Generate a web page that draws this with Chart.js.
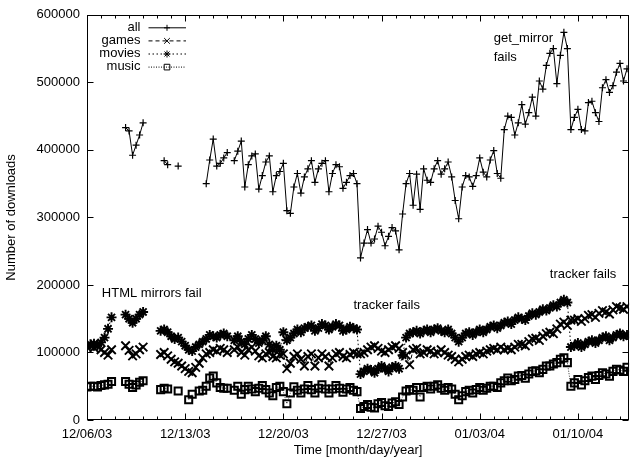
<!DOCTYPE html>
<html>
<head>
<meta charset="utf-8">
<script src="https://cdn.jsdelivr.net/npm/chart.js@4.4.1/dist/chart.umd.min.js"></script>
<style>
html, body { margin: 0; padding: 0; background: #fff; }
</style>
</head>
<body>
<canvas id="downloadsChart" width="637" height="461"></canvas>
<script>
// Days since 12/06/03, one sample every 6 hours
const days = [
    0, 0.25, 0.5, 0.75,   1, 1.25, 1.5, 1.75,   2, 2.25, 2.5, 2.75,   3, 3.25, 3.5, 3.75,
    4, 4.25, 4.5, 4.75,   5, 5.25, 5.5, 5.75,   6, 6.25, 6.5, 6.75,   7, 7.25, 7.5, 7.75,
    8, 8.25, 8.5, 8.75,   9, 9.25, 9.5, 9.75,   10, 10.25, 10.5, 10.75,   11, 11.25, 11.5, 11.75,
    12, 12.25, 12.5, 12.75,   13, 13.25, 13.5, 13.75,   14, 14.25, 14.5, 14.75,   15, 15.25, 15.5, 15.75,
    16, 16.25, 16.5, 16.75,   17, 17.25, 17.5, 17.75,   18, 18.25, 18.5, 18.75,   19, 19.25, 19.5, 19.75,
    20, 20.25, 20.5, 20.75,   21, 21.25, 21.5, 21.75,   22, 22.25, 22.5, 22.75,   23, 23.25, 23.5, 23.75,
    24, 24.25, 24.5, 24.75,   25, 25.25, 25.5, 25.75,   26, 26.25, 26.5, 26.75,   27, 27.25, 27.5, 27.75,
    28, 28.25, 28.5, 28.75,   29, 29.25, 29.5, 29.75,   30, 30.25, 30.5, 30.75,   31, 31.25, 31.5, 31.75,
    32, 32.25, 32.5, 32.75,   33, 33.25, 33.5, 33.75,   34, 34.25, 34.5, 34.75,   35, 35.25, 35.5, 35.75,
    36, 36.25, 36.5, 36.75,   37, 37.25, 37.5, 37.75,   38, 38.25, 38.5
];

// Downloads in thousands, one row per day (null = no data)
const allK = [
    null, null, null, null,   null, null, null, null,   null, null, null, 433,   428, 392, 407, 422,
    440, null, null, null,   null, null, 384, 378,   null, null, 376, null,   null, null, null, null,
    null, null, 350, 385,   416, 376, 380, 388,   396, null, 384, 398,   413, 345, 378, 391,
    394, 342, 362, 382,   391, 338, 362, 368,   380, 310, 306, 345,   365, 336, 360, 372,
    384, 352, 372, 380,   384, 338, 365, 378,   375, 343, 352, 362,   365, 350, 240, 262,
    282, 262, 268, 287,   278, 258, 272, 285,   280, 252, 305, 350,   365, 318, 364, 312,
    372, 355, 352, 372,   384, 364, 372, 382,   360, 325, 298, 345,   362, 360, 346, 362,
    388, 367, 360, 385,   399, 365, 358, 430,   450, 448, 422, 440,   467, 438, 455, 478,
    450, 502, 490, 525,   543, 550, 498, 540,   574, 550, 430, 448,   460, 430, 428, 470,
    472, 455, 442, 492,   504, 485, 495, 515,   528, 502, 520
];

const gamesK = [
    108, 110, 107, 109,   104, 100, 96, 104,   null, null, null, 110,   103, 95, 98, 104,
    108, null, null, null,   null, 97, 100, 95,   90, 86, 84, 80,   76, 72, 70, 78,
    84, 92, 98, 100,   104, 102, 106, 104,   100, null, 104, 108,   100, 96, 104, 108,
    102, 95, 92, 98,   100, 94, 92, 96,   98, 76, 84, 94,   98, 90, 80, 94,
    98, 80, 92, 98,   94, 80, 92, 98,   100, 94, 92, 97,   100, 98, 98, 100,
    104, 108, 110, 106,   102, 100, 104, 108,   110, 106, 100, 96,   82, 104, 106, 98,
    100, 104, 102, 98,   100, 104, 100, 96,   94, 90, 86, 90,   94, 96, 94, 98,
    100, 98, 102, 104,   106, 104, 108, 104,   106, 104, 108, 112,   112, 110, 116, 120,
    121, 118, 124, 128,   130, 128, 135, 142,   145, 140, 148, 148,   150, 146, 150, 155,
    156, 152, 158, 162,   160, 157, 163, 168,   166, 164, 168
];

const moviesK = [
    110, 112, 113, 111,   115, 122, 135, 152,   null, null, null, 156,   150, 144, 150, 156,
    160, null, null, null,   null, 132, 134, 130,   124, 120, 122, 116,   110, 104, 102, 108,
    112, 116, 120, 126,   124, 122, 126, 128,   124, null, 118, 124,   116, 112, 120, 126,
    120, 114, 118, 124,   112, 104, 110, 104,   130, 118, 122, 128,   134, 130, 136, 138,
    140, 132, 136, 142,   140, 134, 138, 142,   140, 132, 134, 138,   136, 134, 68, 72,
    76, 74, 70, 76,   80, 76, 72, 78,   80, 76, 96, 122,   128, 130, 132, 128,
    132, 134, 130, 134,   136, 132, 130, 134,   128, 122, 116, 122,   128, 130, 126, 130,
    134, 130, 134, 138,   140, 136, 140, 144,   146, 142, 148, 152,   150, 148, 154, 158,
    156, 160, 164, 162,   166, 170, 168, 174,   178, 174, 108, 110,   114, 108, 112, 116,
    118, 114, 118, 122,   124, 118, 122, 126,   128, 124, 126
];

const musicK = [
    49, 50, 50, 49,   51, 52, 53, 57,   null, null, null, 57,   53, 48, 52, 56,
    58, null, null, null,   null, 45, 47, 46,   null, null, 43, null,   null, 30, 38, null,
    43, 44, 50, 62,   65, 55, 48, 47,   47, null, 44, 50,   38, 45, 50, 46,
    42, 47, 51, 45,   40, 36, 48, 50,   42, 24, 40, 49,   44, 40, 46, 51,
    45, 40, 47, 52,   46, 40, 46, 51,   47, 41, 46, 48,   44, 42, 17, 20,
    23, 19, 18, 24,   26, 21, 20, 25,   27, 23, 34, 43,   45, 44, 48, 34,
    48, 50, 46, 50,   52, 47, 44, 48,   46, 38, 30, 36,   42, 44, 40, 45,
    48, 44, 47, 50,   50, 48, 55, 58,   62, 58, 60, 65,   66, 62, 68, 72,
    73, 70, 75, 80,   80, 83, 85, 90,   92, 85, 50, 55,   60, 52, 58, 63,
    65, 60, 66, 70,   68, 65, 72, 75,   74, 72, 78
];

const dateTickDays = [0, 7, 14, 21, 28, 35];
const dateTickLabels = ['12/06/03', '12/13/03', '12/20/03', '12/27/03', '01/03/04', '01/10/04'];

const notes = [
    { text: 'HTML mirrors fail', day: 1.06, value: 187000 },
    { text: 'tracker fails', day: 19.0, value: 169000 },
    { text: 'tracker fails', day: 33.0, value: 216000 },
    { text: 'get_mirror', day: 29.0, value: 565000 },
    { text: 'fails', day: 29.0, value: 537000 }
];

const FONT = 'Liberation Sans, Arial, Helvetica, sans-serif';

function toPoints(values) {
    return days.map((d, i) => ({ x: d, y: values[i] === null ? null : values[i] * 1000 }));
}

function drawMarker(ctx, ds, x, y) {
    const opts = { pointStyle: ds.pointStyle, radius: ds.keyRadius, borderWidth: 1, rotation: 0 };
    if (Chart.helpers && Chart.helpers.drawPoint) {
        Chart.helpers.drawPoint(ctx, opts, x, y);
    }
}

// gnuplot style key: right aligned text followed by a line sample with its marker
const gnuplotKey = {
    id: 'gnuplotKey',
    afterDraw(chart) {
        const { ctx, chartArea: a } = chart;
        ctx.save();
        ctx.font = '13px ' + FONT;
        ctx.textAlign = 'right';
        ctx.textBaseline = 'middle';
        chart.data.datasets.forEach((ds, i) => {
            const y = a.top + 12.5 + i * 13.1;
            ctx.fillStyle = '#000';
            ctx.fillText(ds.label, a.left + 53.5, y);
            ctx.strokeStyle = '#000';
            ctx.lineWidth = 1;
            ctx.setLineDash(ds.borderDash || []);
            ctx.beginPath();
            ctx.moveTo(a.left + 61.5, y + 0.5);
            ctx.lineTo(a.left + 99, y + 0.5);
            ctx.stroke();
            ctx.setLineDash([]);
            ctx.fillStyle = ds.pointBackgroundColor;
            drawMarker(ctx, ds, a.left + 80, y + 0.5);
        });
        ctx.restore();
    }
};

// Text notes placed through the chart scales
const eventNotes = {
    id: 'eventNotes',
    afterDatasetsDraw(chart) {
        const { ctx, scales: { x, y } } = chart;
        ctx.save();
        ctx.font = '13px ' + FONT;
        ctx.fillStyle = '#000';
        ctx.textAlign = 'left';
        ctx.textBaseline = 'middle';
        notes.forEach(n => ctx.fillText(n.text, x.getPixelForValue(n.day), y.getPixelForValue(n.value)));
        ctx.restore();
    }
};

// Border box with inward ticks on all four sides
const gnuplotFrame = {
    id: 'gnuplotFrame',
    afterDraw(chart) {
        const { ctx, chartArea: a, scales: { x, y } } = chart;
        const L = Math.round(a.left) + 0.5, R = Math.round(a.right) - 0.5;
        const T = Math.round(a.top) + 0.5, B = Math.round(a.bottom) - 0.5;
        ctx.save();
        ctx.strokeStyle = '#000';
        ctx.lineWidth = 1;
        ctx.strokeRect(L, T, R - L, B - T);
        ctx.beginPath();
        y.ticks.forEach(t => {
            const py = Math.round(y.getPixelForValue(t.value)) + 0.5;
            ctx.moveTo(L, py); ctx.lineTo(L + 6, py);
            ctx.moveTo(R, py); ctx.lineTo(R - 6, py);
        });
        for (let d = 0; d <= x.max; d++) {
            const px = Math.round(x.getPixelForValue(d)) + 0.5;
            const len = d % 7 === 0 ? 6 : 3;
            ctx.moveTo(px, B); ctx.lineTo(px, B - len);
            ctx.moveTo(px, T); ctx.lineTo(px, T + len);
        }
        ctx.stroke();
        ctx.restore();
    }
};

const baseSeries = {
    borderColor: '#000',
    pointBorderColor: '#000',
    pointBackgroundColor: '#000',
    borderWidth: 1,
    pointBorderWidth: 1,
    fill: false,
    tension: 0,
    spanGaps: false
};

new Chart(document.getElementById('downloadsChart').getContext('2d'), {
    type: 'line',
    data: {
        datasets: [
            Object.assign({}, baseSeries, {
                label: 'all', data: toPoints(allK), borderDash: [],
                pointStyle: 'cross', pointRadius: 3.5, pointBorderWidth: 1.2, keyRadius: 3
            }),
            Object.assign({}, baseSeries, {
                label: 'games', data: toPoints(gamesK), borderDash: [4, 3],
                pointStyle: 'crossRot', pointRadius: 6, pointBorderWidth: 1.9, keyRadius: 4
            }),
            Object.assign({}, baseSeries, {
                label: 'movies', data: toPoints(moviesK), borderDash: [1.5, 2.5],
                pointStyle: 'star', pointRadius: 5, pointBorderWidth: 1.9, keyRadius: 3.5
            }),
            Object.assign({}, baseSeries, {
                label: 'music', data: toPoints(musicK), borderDash: [1, 1.5], borderWidth: 0.8,
                pointStyle: 'rect', pointRadius: 5, pointBorderWidth: 2, keyRadius: 4,
                pointBackgroundColor: 'rgba(0,0,0,0)'
            })
        ]
    },
    options: {
        responsive: false,
        devicePixelRatio: 1,
        animation: false,
        events: [],
        layout: { padding: { left: 0, right: 4, top: 11, bottom: 0 } },
        plugins: {
            legend: { display: false },
            tooltip: { enabled: false }
        },
        scales: {
            x: {
                type: 'linear',
                min: 0,
                max: 38.65,
                afterBuildTicks: scale => { scale.ticks = dateTickDays.map(v => ({ value: v })); },
                afterFit: scale => { scale.height = 41; },
                ticks: {
                    autoSkip: false,
                    maxRotation: 0,
                    padding: 7,
                    color: '#000',
                    font: { family: FONT, size: 13 },
                    callback: value => dateTickLabels[dateTickDays.indexOf(value)]
                },
                grid: { display: false, drawTicks: false },
                border: { display: false },
                title: {
                    display: true,
                    text: 'Time [month/day/year]',
                    color: '#000',
                    font: { family: FONT, size: 13 },
                    padding: { top: 2, bottom: 3 }
                }
            },
            y: {
                min: 0,
                max: 600000,
                afterFit: scale => { scale.width = 87; },
                ticks: {
                    stepSize: 100000,
                    padding: 7,
                    color: '#000',
                    font: { family: FONT, size: 13 },
                    callback: value => String(value)
                },
                grid: { display: false, drawTicks: false },
                border: { display: false },
                title: {
                    display: true,
                    text: 'Number of downloads',
                    color: '#000',
                    font: { family: FONT, size: 13 },
                    padding: { top: 4, bottom: 4 }
                }
            }
        }
    },
    plugins: [eventNotes, gnuplotFrame, gnuplotKey]
});
</script>
</body>
</html>
